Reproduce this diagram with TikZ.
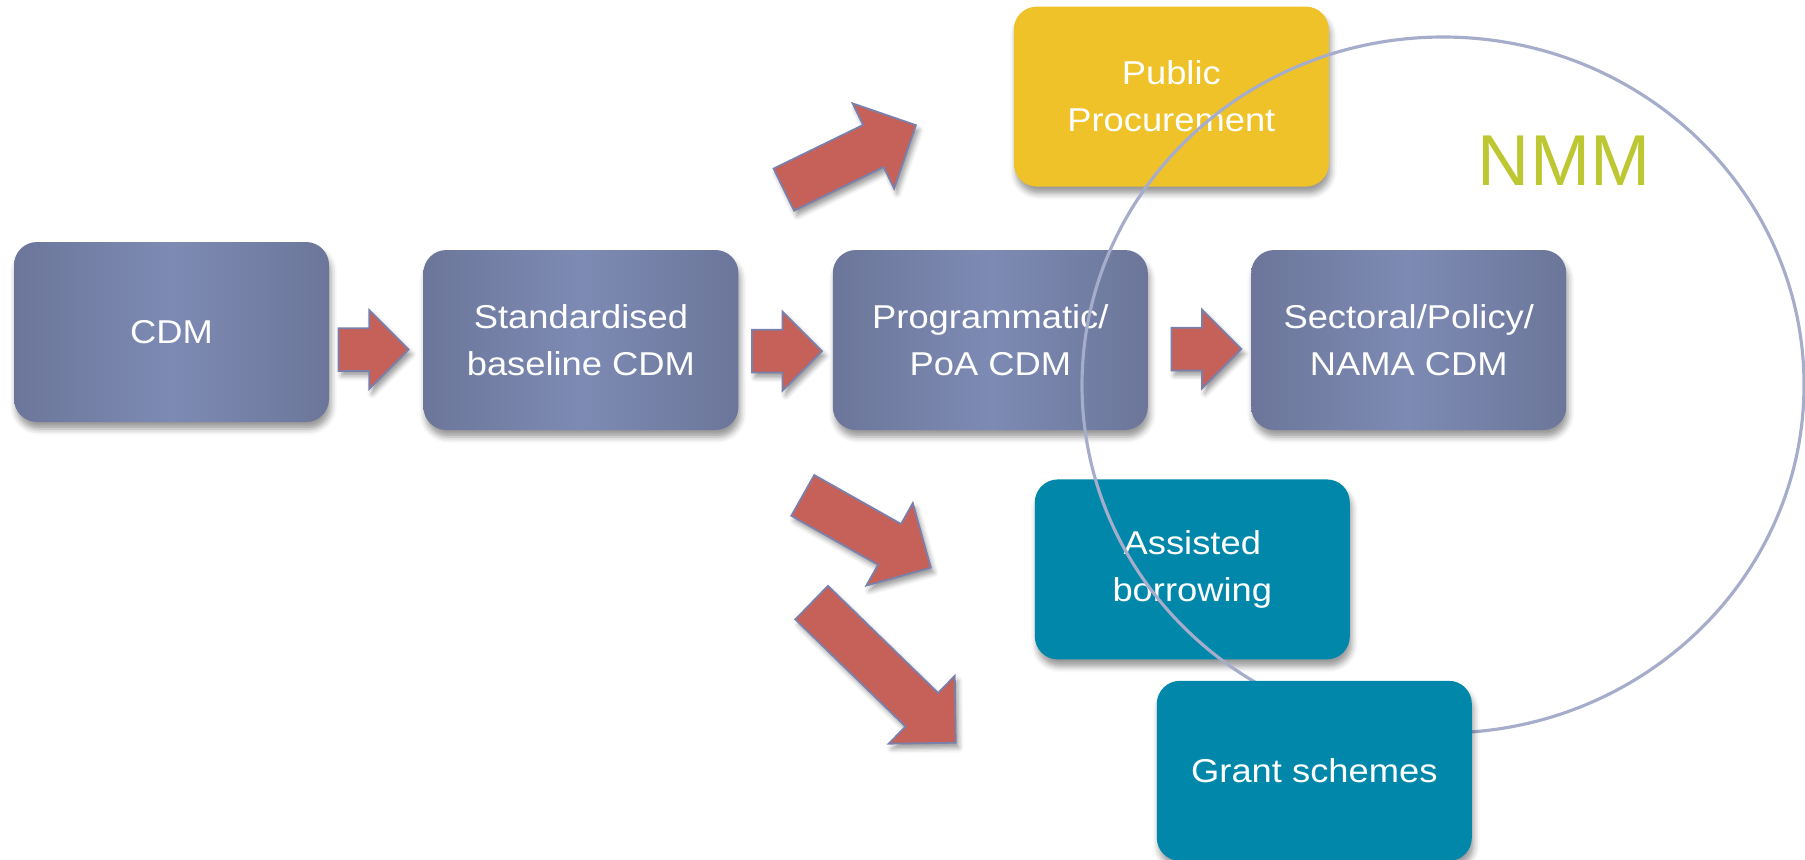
\documentclass[tikz,border=0pt]{standalone}
\usepackage{fontspec}
\setmainfont{Liberation Sans}
\newfontfamily\boxfont[FakeStretch=1.1]{Liberation Sans}
\usetikzlibrary{positioning, calc, shapes.arrows, shadows.blur}
\usepackage{xcolor}

\definecolor{slatelight}{RGB}{125,138,179}
\definecolor{slatedark}{RGB}{108,118,154}
\definecolor{procyellow}{RGB}{238,194,40}
\definecolor{fundteal}{RGB}{0,135,170}
\definecolor{arrowred}{RGB}{198,97,89}
\definecolor{arrowedge}{RGB}{122,128,172}
\definecolor{ringgrey}{RGB}{166,173,203}
\definecolor{nmmgreen}{RGB}{189,199,50}

\begin{document}
\begin{tikzpicture}[
        stage/.style={rounded corners=0.23cm, minimum width=3.15cm, minimum height=1.8cm,
            align=center, text=white, font=\boxfont\fontsize{9.4}{13.4}\selectfont,
            blur shadow={shadow xshift=0.02cm, shadow yshift=-0.07cm, shadow blur radius=0.06cm}},
        cdmstage/.style={stage, left color=slatedark, right color=slatedark, middle color=slatelight},
        procstage/.style={stage, fill=procyellow},
        fundstage/.style={stage, fill=fundteal},
        flowarrow/.style={single arrow, anchor=tail, draw=arrowedge, line width=0.5pt,
            fill=arrowred, inner xsep=0pt, inner ysep=0.205cm, single arrow head extend=0.18cm,
            minimum height=0.70cm,
            blur shadow={shadow xshift=0.03cm, shadow yshift=-0.05cm, shadow blur radius=0.05cm}},
        bigarrow/.style={flowarrow, inner ysep=0.225cm, single arrow head extend=0.24cm},
        ringline/.style={draw=ringgrey, line width=0.9pt}
    ]
        \useasboundingbox (0,0) rectangle (18.05,8.59);

        % main row of CDM variants
        \node[cdmstage] (cdm) at (1.715,5.27) {CDM};
        \node[cdmstage, right=0.93cm of cdm, yshift=-0.08cm] (std) {Standardised\\baseline CDM};
        \node[cdmstage, right=0.93cm of std] (prog) {Programmatic/\\PoA CDM};
        \node[cdmstage, right=1.02cm of prog] (sect) {Sectoral/Policy/\\NAMA CDM};

        % branches off the programme stage
        \node[procstage, above=0.62cm of prog, xshift=1.81cm] (pub) {Public\\Procurement};
        \node[fundstage, below=0.48cm of prog, xshift=2.02cm] (assist) {Assisted\\borrowing};

        % NMM ring, behind the grant box
        \coordinate (ringc) at (14.43,4.74);
        \draw[ringline] (ringc) ellipse [x radius=3.61cm, y radius=3.48cm];
        \node[text=nmmgreen, font=\fontsize{20.5}{24}\selectfont] (nmm) at (15.64,6.985) {NMM};

        \node[fundstage, below=0.20cm of assist, xshift=1.22cm] (grant) {Grant schemes};

        % block arrows
        \node[flowarrow] (a1) at ($(cdm.east)+(0.08,-0.175)$) {};
        \node[flowarrow] (a2) at ($(std.east)+(0.12,-0.11)$) {};
        \node[flowarrow] (a3) at ($(prog.east)+(0.22,-0.09)$) {};
        \node[bigarrow, rotate=26, minimum height=1.47cm] (a4) at (7.83,6.69) {};
        \node[bigarrow, rotate=-29.4, minimum height=1.47cm] (a5) at (8.02,3.64) {};
        \node[bigarrow, rotate=-44.2, minimum height=2.01cm] (a6) at (8.11,2.57) {};
\end{tikzpicture}
\end{document}
